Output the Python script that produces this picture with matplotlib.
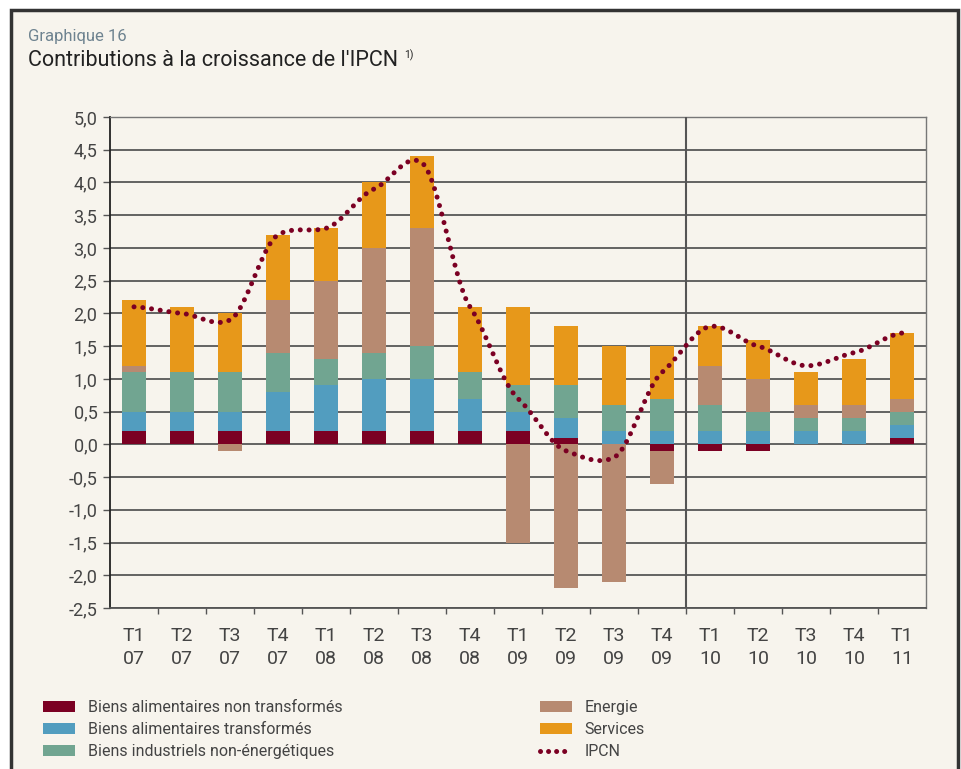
import matplotlib.pyplot as plt
import numpy as np
from matplotlib.patches import Rectangle, Patch
from matplotlib.lines import Line2D

plt.rcParams['font.family'] = ['Roboto', 'DejaVu Sans']

# Données
trimestres = ['T1', 'T2', 'T3', 'T4', 'T1', 'T2', 'T3', 'T4', 'T1', 'T2', 'T3', 'T4',
              'T1', 'T2', 'T3', 'T4', 'T1']
annees = ['07', '07', '07', '07', '08', '08', '08', '08', '09', '09', '09', '09',
          '10', '10', '10', '10', '11']

alim_non_transf = [0.2, 0.2, 0.2, 0.2, 0.2, 0.2, 0.2, 0.2, 0.2, 0.1, 0.0, -0.1,
                   -0.1, -0.1, 0.0, 0.0, 0.1]
alim_transf = [0.3, 0.3, 0.3, 0.6, 0.7, 0.8, 0.8, 0.5, 0.3, 0.3, 0.2, 0.2,
               0.2, 0.2, 0.2, 0.2, 0.2]
industriels = [0.6, 0.6, 0.6, 0.6, 0.4, 0.4, 0.5, 0.4, 0.4, 0.5, 0.4, 0.5,
               0.4, 0.3, 0.2, 0.2, 0.2]
energie = [0.1, 0.0, -0.1, 0.8, 1.2, 1.6, 1.8, 0.0, -1.5, -2.2, -2.1, -0.5,
           0.6, 0.5, 0.2, 0.2, 0.2]
services = [1.0, 1.0, 0.9, 1.0, 0.8, 1.0, 1.1, 1.0, 1.2, 0.9, 0.9, 0.8,
            0.6, 0.6, 0.5, 0.7, 1.0]
ipcn = [2.1, 2.0, 1.9, 3.2, 3.3, 3.9, 4.3, 2.1, 0.7, -0.1, -0.2, 1.1,
        1.8, 1.5, 1.2, 1.4, 1.7]

series = [
    ('Biens alimentaires non transformés', alim_non_transf, '#7b0023'),
    ('Biens alimentaires transformés', alim_transf, '#529dbf'),
    ('Biens industriels non-énergétiques', industriels, '#71a591'),
    ('Energie', energie, '#b78a71'),
    ('Services', services, '#e7981a'),
]
ligne_col = '#7b0023'
fond = '#f7f4ed'
txt = '#444444'


def lissage(y, n=24, k=0.3):
    # spline de Hermite (cardinale) pour la courbe IPCN
    y = np.asarray(y, dtype=float)
    p = np.concatenate([[y[0]], y, [y[-1]]])
    m = k * (p[2:] - p[:-2])
    xs, ys = [], []
    for i in range(len(y) - 1):
        t = np.linspace(0, 1, n, endpoint=False)
        h00 = 2 * t ** 3 - 3 * t ** 2 + 1
        h10 = t ** 3 - 2 * t ** 2 + t
        h01 = -2 * t ** 3 + 3 * t ** 2
        h11 = t ** 3 - t ** 2
        v = h00 * y[i] + h10 * m[i] + h01 * y[i + 1] + h11 * m[i + 1]
        xs.append(i + t)
        ys.append(v)
    xs.append([len(y) - 1])
    ys.append([y[-1]])
    return np.concatenate(xs), np.concatenate(ys)


fig = plt.figure(figsize=(9.62, 7.69), dpi=100)
fig.patch.set_facecolor('white')
W, H = 962, 769
cadre = Rectangle((11 / W, -0.05), (958 - 11) / W, (H - 10) / H + 0.05,
                  transform=fig.transFigure, facecolor=fond, edgecolor='#333333',
                  linewidth=2.5, zorder=-10)
fig.patches.append(cadre)

fig.text(28 / W, 1 - 36 / H, 'Graphique 16', fontsize=12, color='#6e8390', va='center')
fig.text(28 / W, 1 - 61 / H, "Contributions à la croissance de l'IPCN", fontsize=15.5,
         color='#222222', va='center')
fig.text(404 / W, 1 - 55 / H, '1)', fontsize=7.5, color='#222222', va='center')

ax = fig.add_axes([110 / W, 1 - 608 / H, (926 - 110) / W, (608 - 117) / H])
ax.set_zorder(2)
ax.set_facecolor(fond)

x = np.arange(len(trimestres))
pos = np.zeros(len(x))
neg = np.zeros(len(x))
for nom, vals, col in series:
    v = np.array(vals)
    bas = np.where(v >= 0, pos, neg)
    ax.bar(x, v, 0.5, bottom=bas, color=col, zorder=3, linewidth=0)
    pos = pos + np.where(v > 0, v, 0)
    neg = neg + np.where(v < 0, v, 0)

xs, ys = lissage(ipcn)
ax.plot(xs, ys, color=ligne_col, lw=3.6, linestyle=(0, (0.01, 1.75)),
        dash_capstyle='round', zorder=5)

ax.set_xlim(-0.5, len(x) - 0.5)
ax.set_ylim(-2.5, 5.0)
yt = np.arange(-2.5, 5.01, 0.5)
ax.set_yticks(yt)
ax.set_yticklabels([f'{v:.1f}'.replace('.', ',') for v in yt])
for v in yt:
    ax.axhline(v, color='#4a4a4a', lw=1.2, zorder=1)
ax.axvline(11.5, color='#555555', lw=1.5, zorder=4)

ax.set_xticks(x)
ax.set_xticklabels([f'{t}\n{a}' for t, a in zip(trimestres, annees)], linespacing=1.35)
ax.set_xticks(np.arange(0.5, len(x) - 0.5), minor=True)
ax.tick_params(axis='x', which='major', length=0, pad=14, labelsize=14, labelcolor=txt)
ax.tick_params(axis='x', which='minor', length=4, width=1, color='#555555', direction='out')
ax.tick_params(axis='y', length=5, width=1, color='#555555', labelsize=13,
               labelcolor=txt, pad=4)

for s in ['top', 'right']:
    ax.spines[s].set_color('#777777')
    ax.spines[s].set_linewidth(1)
ax.spines['left'].set_color('#222222')
ax.spines['left'].set_linewidth(1.3)
ax.spines['bottom'].set_color('#555555')
ax.spines['bottom'].set_linewidth(1.3)

h_gauche = [Patch(facecolor=c, edgecolor='none', label=n) for n, v, c in series[:3]]
h_droite = [Patch(facecolor=c, edgecolor='none', label=n) for n, v, c in series[3:]]
h_droite.append(Line2D([0], [0], color=ligne_col, lw=3.6, linestyle=(0, (0.01, 1.6)),
                       dash_capstyle='round', label='IPCN'))

opts = dict(frameon=False, fontsize=11.5, handlelength=2.0, handleheight=0.7,
            handletextpad=0.8, labelspacing=0.45, labelcolor=txt, borderaxespad=0,
            borderpad=0)
fig.legend(handles=h_gauche, loc='upper left', bbox_to_anchor=(43 / W, 1 - 700 / H), **opts)
fig.legend(handles=h_droite, loc='upper left', bbox_to_anchor=(540 / W, 1 - 700 / H), **opts)

fig.savefig('out.png', dpi=100, facecolor=fig.get_facecolor())
